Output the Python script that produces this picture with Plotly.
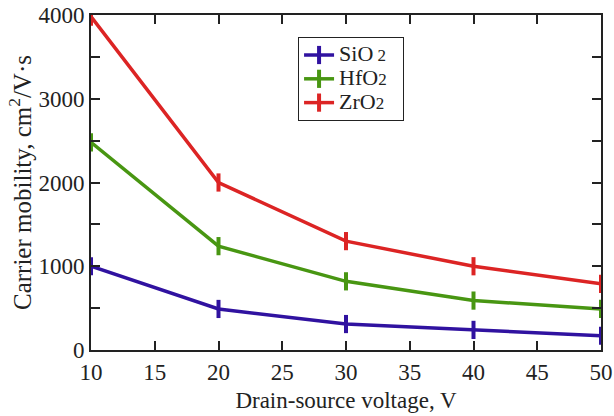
import plotly.graph_objects as go

voltage = [10, 20, 30, 40, 50]
sio2 = [1000, 490, 310, 240, 170]
hfo2 = [2480, 1240, 820, 590, 490]
zro2 = [3980, 2000, 1300, 1000, 790]

big = "<span style='font-size:22px'>%s</span><span style='font-size:17px'>%s</span><span style='font-size:22px'>&nbsp;&nbsp;</span>"
names = [big % ("SiO", " 2"), big % ("HfO", "2"), big % ("ZrO", "2")]
colors = ["rgb(48,18,160)", "rgb(72,150,18)", "rgb(220,36,36)"]
series = [sio2, hfo2, zro2]

fig = go.Figure()
for name, col, vals in zip(names, colors, series):
    fig.add_trace(go.Scatter(
        x=voltage, y=vals, name=name, mode="lines+markers",
        line=dict(color=col, width=3.5),
        marker=dict(symbol="line-ns", size=13, line=dict(color=col, width=4)),
    ))

font = "Liberation Serif, Times New Roman, serif"
fig.update_layout(
    width=614, height=416,
    margin=dict(l=91, r=13, t=15, b=66),
    paper_bgcolor="white", plot_bgcolor="white",
    font=dict(family=font, size=22, color="#222"),
    showlegend=True,
    legend=dict(x=0.406, y=0.934, xanchor="left", yanchor="top",
                bordercolor="#222", borderwidth=1, bgcolor="white",
                font=dict(size=16, family=font), itemwidth=30,
                tracegroupgap=0),
    xaxis=dict(range=[10, 50], tickvals=[10, 15, 20, 25, 30, 35, 40, 45, 50],
               ticks="inside", ticklen=9, tickwidth=2, tickcolor="#222",
               showline=True, linecolor="#222", linewidth=2, mirror="allticks",
               showgrid=False, zeroline=False, automargin=False,
               title=dict(text="Drain-source voltage, V", font=dict(size=23), standoff=8),
               tickfont=dict(size=23)),
    yaxis=dict(range=[0, 4000], tickvals=[0, 1000, 2000, 3000, 4000],
               ticks="inside", ticklen=9, tickwidth=2, tickcolor="#222",
               minor=dict(dtick=500, ticks="inside", ticklen=9, tickwidth=2, tickcolor="#222"),
               showline=True, linecolor="#222", linewidth=2, mirror="allticks",
               showgrid=False, zeroline=False, automargin=False,
               title=dict(text="Carrier mobility, cm<sup>2</sup>/V·s", font=dict(size=25), standoff=0),
               tickfont=dict(size=23)),
)

fig.write_html("out.html")
